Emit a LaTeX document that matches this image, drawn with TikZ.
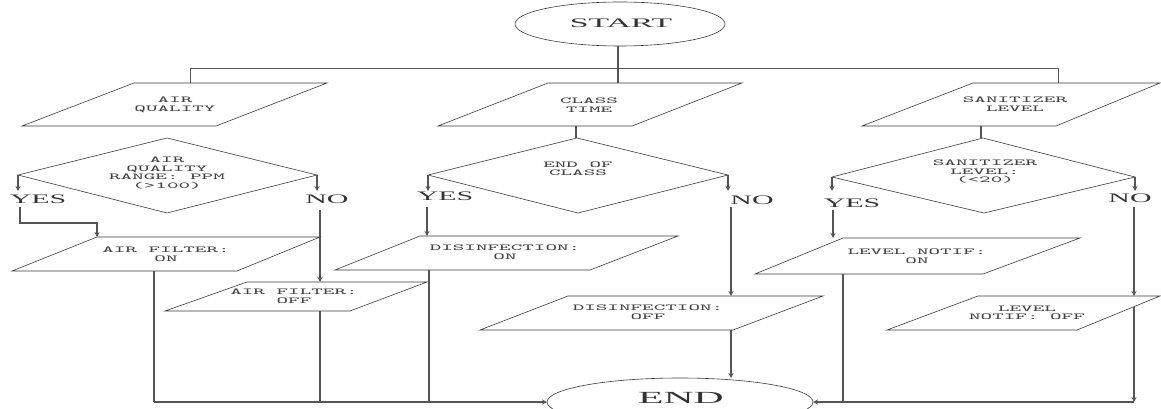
\documentclass[tikz,border=0pt]{standalone}
\usepackage{fontspec}
\usetikzlibrary{arrows.meta}
\newfontfamily\smf[FakeStretch=2.45]{Latin Modern Mono}
\newfontfamily\lbf[FakeStretch=2.3]{Liberation Serif}
\newfontfamily\stf[FakeStretch=2.6]{Liberation Serif}
\newfontfamily\enf[FakeStretch=2.45]{Liberation Serif}
\definecolor{ln}{HTML}{555555}
\definecolor{sh}{HTML}{3A3A3A}
\tikzset{
  shp/.style={draw=sh, line width=0.6pt},
  con/.style={draw=ln, line width=1.1pt},
  arr/.style={con, -{Stealth[length=5pt,width=5pt]}},
  txt/.style={font=\smf\fontsize{9}{8.5}\selectfont, align=center, inner sep=0pt, text=black!75},
  yn/.style={font=\lbf\fontsize{13}{13}\selectfont, inner sep=0pt, text=black!80},
  big/.style={font=\stf\fontsize{13}{13}\selectfont, inner sep=0pt, text=black!80},
}
\begin{document}
\begin{tikzpicture}[x=1pt,y=-1pt]
\useasboundingbox (0,0) rectangle (1161,409);
\clip (0,0) rectangle (1161,409);

% ---------- START / END ----------
\draw[shp] (620,24) ellipse [x radius=105pt, y radius=22pt];
\node[big] (start) at (621,23) {START};
\draw[shp] (680,402) ellipse [x radius=133pt, y radius=24pt];
\node[big, font=\enf\fontsize{17}{17}\selectfont] (end) at (681,398) {END};
\coordinate (endT) at (731,378);
\coordinate (endL) at (547,402);
\coordinate (endR) at (813,402);

% ---------- inputs ----------
\draw[shp] (134,83) -- (327,83) -- (216,126) -- (22,126) -- cycle;
\node[txt] (aq) at (175,105) {AIR\\QUALITY};
\draw[shp] (548,83) -- (742,83) -- (632,126) -- (438,126) -- cycle;
\node[txt] (ct) at (589,105) {CLASS\\TIME};
\draw[shp] (973,83) -- (1160,83) -- (1056,126) -- (862,126) -- cycle;
\node[txt] (sl) at (1015,104) {SANITIZER\\LEVEL};

% ---------- decisions ----------
\draw[shp] (167,138) -- (317,175) -- (167,213) -- (18,175) -- cycle;
\node[txt] (ad) at (167,173) {AIR\\QUALITY\\RANGE: PPM\\(>100)};
\draw[shp] (577,138) -- (728,175) -- (578,213) -- (428,175) -- cycle;
\node[txt] (cd) at (578,169) {END OF\\CLASS};
\draw[shp] (983,138) -- (1135,177) -- (984,213) -- (832,177) -- cycle;
\node[txt] (sd) at (985,172) {SANITIZER\\LEVEL:\\(<20)};

% ---------- outputs ----------
\draw[shp] (97,237) -- (320,237) -- (237,271) -- (12,271) -- cycle;
\node[txt] (afon) at (166,254) {AIR FILTER:\\ON};
\draw[shp] (247,282) -- (427,282) -- (350,311) -- (165,311) -- cycle;
\node[txt] (afoff) at (294,296) {AIR FILTER:\\OFF};
\draw[shp] (420,236) -- (678,236) -- (590,270) -- (335,270) -- cycle;
\node[txt] (don) at (505,252) {DISINFECTION:\\ON};
\draw[shp] (568,296) -- (823,296) -- (733,330) -- (480,330) -- cycle;
\node[txt] (doff) at (648,312) {DISINFECTION:\\OFF};
\draw[shp] (843,238) -- (1080,238) -- (983,274) -- (755,274) -- cycle;
\node[txt] (lon) at (917,256) {LEVEL NOTIF:\\ON};
\draw[shp] (978,296) -- (1160,296) -- (1077,330) -- (887,330) -- cycle;
\node[txt] (loff) at (1027,313) {LEVEL\\NOTIF: OFF};

% ---------- labels ----------
\node[yn] (y1) at (38,199) {YES};
\node[yn] (n1) at (327,199) {NO};
\node[yn] (y2) at (445,196) {YES};
\node[yn] (n2) at (752,200) {NO};
\node[yn] (y3) at (852,203) {YES};
\node[yn] (n3) at (1130,198) {NO};

% ---------- named connection points ----------
\coordinate (startB) at (618,46);
\coordinate (busL) at (190,68);
\coordinate (busR) at (1058,68);
\coordinate (aqT) at (190,83);
\coordinate (ctT) at (618,83);
\coordinate (slT) at (1058,83);
\coordinate (ctB) at (576,126);
\coordinate (cdT) at (576,138);
\coordinate (slB) at (981,126);
\coordinate (sdT) at (981,138);

\coordinate (adL) at (18,175);  \coordinate (adLa) at (18,191);
\coordinate (adR) at (317,175); \coordinate (adRa) at (317,191);
\coordinate (cdL) at (428,175); \coordinate (cdLa) at (428,191);
\coordinate (cdR) at (728,175); \coordinate (cdRa) at (728,191);
\coordinate (sdL) at (832,177); \coordinate (sdLa) at (832,191);
\coordinate (sdR) at (1135,177);\coordinate (sdRa) at (1135,191);

\coordinate (y1B) at (20,207);  \coordinate (y1c) at (20,223); \coordinate (y1d) at (97,223);
\coordinate (afonT) at (97,237);
\coordinate (n1B) at (320,210); \coordinate (afoffT) at (320,282);
\coordinate (y2B) at (427,207); \coordinate (donT) at (427,236);
\coordinate (n2B) at (731,207); \coordinate (doffT) at (731,296);
\coordinate (y3B) at (833,210); \coordinate (lonT) at (833,238);
\coordinate (n3B) at (1134,207);\coordinate (loffT) at (1134,296);

\coordinate (afonB) at (154,271);  \coordinate (afonE) at (154,402);
\coordinate (afoffB) at (320,311); \coordinate (afoffE) at (320,402);
\coordinate (donB) at (429,270);   \coordinate (donE) at (429,402);
\coordinate (doffB) at (731,330);
\coordinate (lonB) at (843,274);   \coordinate (lonE) at (843,402);
\coordinate (loffB) at (1134,307); \coordinate (loffE) at (1134,402);

% ---------- connectors ----------
\draw[con] (startB) -- (ctT);
\draw[con, line width=0.8pt] (aqT) -- (busL) -- (busR) -- (slT);
\draw[con] (ctB) -- (cdT);
\draw[con] (slB) -- (sdT);

\draw[arr] (adL) -- (adLa);
\draw[arr] (adR) -- (adRa);
\draw[arr] (cdL) -- (cdLa);
\draw[arr] (cdR) -- (cdRa);
\draw[arr] (sdL) -- (sdLa);
\draw[arr] (sdR) -- (sdRa);

\draw[arr] (y1B) -- (y1c) -- (y1d) -- (afonT);
\draw[arr] (n1B) -- (afoffT);
\draw[arr] (y2B) -- (donT);
\draw[arr] (n2B) -- (doffT);
\draw[arr] (y3B) -- (lonT);
\draw[arr] (n3B) -- (loffT);

\draw[con] (afonB) -- (afonE);
\draw[con] (afoffB) -- (afoffE);
\draw[con] (donB) -- (donE);
\draw[arr] (afonE) -- (endL);
\draw[arr] (doffB) -- (endT);
\draw[con] (lonB) -- (lonE);
\draw[arr] (loffB) -- (loffE);
\draw[arr] (loffE) -- (endR);
\end{tikzpicture}
\end{document}
